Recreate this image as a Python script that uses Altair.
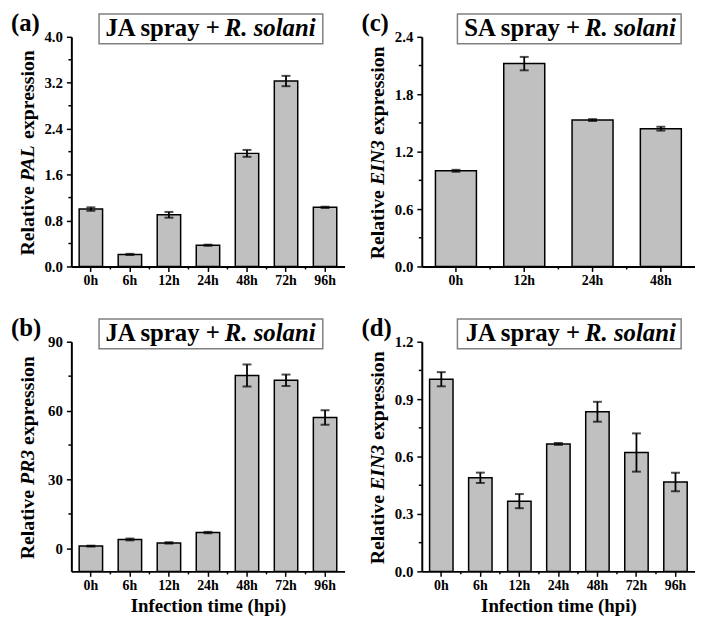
import altair as alt
import pandas as pd

# ---------------- data ----------------
cats7 = ["0h", "6h", "12h", "24h", "48h", "72h", "96h"]
cats4 = ["0h", "12h", "24h", "48h"]

pal_vals = [1.00, 0.21, 0.90, 0.37, 1.97, 3.23, 1.03]
pal_errs = [0.03, 0.01, 0.05, 0.01, 0.06, 0.09, 0.01]

pr3_vals = [1.0, 3.9, 2.4, 6.9, 75.3, 73.2, 57.0]
pr3_errs = [0.2, 0.4, 0.3, 0.3, 4.8, 2.5, 3.2]

ein3_sa_vals = [1.00, 2.12, 1.53, 1.44]
ein3_sa_errs = [0.01, 0.07, 0.01, 0.02]

ein3_ja_vals = [1.004, 0.489, 0.367, 0.666, 0.834, 0.621, 0.467]
ein3_ja_errs = [0.037, 0.027, 0.037, 0.005, 0.052, 0.10, 0.048]

pal_ticks = [0.0, 0.8, 1.6, 2.4, 3.2, 4.0]
pal_minor = [0.4, 1.2, 2.0, 2.8, 3.6]
pr3_ticks = [0, 30, 60, 90]
pr3_minor = [15, 45, 75]
sa_ticks = [0.0, 0.6, 1.2, 1.8, 2.4]
sa_minor = [0.3, 0.9, 1.5, 2.1]
ja_ticks = [0.0, 0.3, 0.6, 0.9, 1.2]
ja_minor = [0.15, 0.45, 0.75, 1.05]

# ---------------- layout ----------------
W, H = 276, 232
FONT = "Liberation Serif"
FS_T = 20  # y axis title font size

# approximate em widths of the pieces of the y title
EM = {"Relative": 3.5, "expression": 4.5, "PAL": 1.889, "PR3": 1.778, "EIN3": 2.278}


def txt(s, x, y, size, italic=False, align="center", angle=0, baseline="middle"):
    props = dict(font=FONT, fontSize=size, fontWeight="bold", color="black",
                 align=align, baseline=baseline)
    if italic:
        props["fontStyle"] = "italic"
    if angle:
        props["angle"] = angle
    return alt.Chart(pd.DataFrame({"s": [s]})).mark_text(**props).encode(
        text="s:N", x=alt.value(x), y=alt.value(y))


def panel(cats, vals, errs, dom, ticks, minor, fmt, gene, prefix, box, split,
          label, xtitle):
    base = dom[0]
    df = pd.DataFrame({
        "t": cats, "v": vals,
        "lo": [v - e for v, e in zip(vals, errs)],
        "hi": [v + e for v, e in zip(vals, errs)],
        "b": [base] * len(cats),
    })
    common = dict(labelFont=FONT, labelFontWeight="bold",
                  labelColor="black", domainColor="black", domainWidth=2,
                  tickColor="black", tickWidth=1.5, grid=False)
    if xtitle:
        xaxis = alt.Axis(title=xtitle, labelAngle=0, tickSize=5, labelPadding=2,
                         labelFontSize=14, titlePadding=5, titleFont=FONT,
                         titleFontSize=19, titleFontWeight="bold",
                         titleColor="black", **common)
    else:
        xaxis = alt.Axis(title=None, labelAngle=0, tickSize=5, labelPadding=2,
                         labelFontSize=14, **common)
    xenc = alt.X("t:N", sort=cats,
                 scale=alt.Scale(paddingInner=0.4, paddingOuter=0.2),
                 axis=xaxis)
    yscale = alt.Scale(domain=dom, nice=False, zero=False)
    yaxis = alt.Axis(values=ticks, format=fmt, title=None, tickSize=5,
                     labelPadding=4, labelFontSize=15, **common)

    bars = alt.Chart(df).mark_bar(fill="#c0c0c0", stroke="black",
                                  strokeWidth=1.5).encode(
        x=xenc, y=alt.Y("v:Q", scale=yscale, axis=yaxis), y2="b:Q")
    rule = alt.Chart(df).mark_rule(color="black", strokeWidth=1.8).encode(
        x=xenc, y=alt.Y("lo:Q", scale=yscale, axis=yaxis), y2="hi:Q")
    cap_lo = alt.Chart(df).mark_tick(color="black", thickness=2, size=9).encode(
        x=xenc, y=alt.Y("lo:Q", scale=yscale, axis=yaxis))
    cap_hi = alt.Chart(df).mark_tick(color="black", thickness=2, size=9).encode(
        x=xenc, y=alt.Y("hi:Q", scale=yscale, axis=yaxis))
    mticks = alt.Chart(pd.DataFrame({"m": minor})).mark_rule(
        color="black", strokeWidth=1.5).encode(
        y=alt.Y("m:Q", scale=yscale, axis=yaxis),
        x=alt.value(-3), x2=alt.value(0))
    # minor x ticks between bars (band boundaries)
    step = W / len(cats)
    xminor = alt.Chart(pd.DataFrame({"t": cats[1:]})).mark_rule(
        color="black", strokeWidth=1.5, xOffset=-step / 2).encode(
        x=xenc, y=alt.value(H), y2=alt.value(H + 3))

    # title box
    boxm = alt.Chart(pd.DataFrame({"s": [""]})).mark_rect(
        fill="white", stroke="#808080", strokeWidth=1.5).encode(
        x=alt.value(box[0]), x2=alt.value(box[1]),
        y=alt.value(-23), y2=alt.value(7))
    t1 = txt(prefix, split, -1, 25, align="right", baseline="alphabetic")
    t2 = txt("R. solani", split + 5, -1, 25, italic=True, align="left",
             baseline="alphabetic")

    # y title pieces (rotated)
    g = 0.25 * FS_T
    rel = EM["Relative"] * FS_T
    gw = EM[gene] * FS_T
    ex = EM["expression"] * FS_T
    total = rel + g + gw + g + ex
    yb = H / 2 + 1 + total / 2
    xt = -38
    y1 = txt("Relative", xt, yb, FS_T, align="left", angle=270,
             baseline="alphabetic")
    y2 = txt(gene, xt, yb - rel - g, FS_T, italic=True, align="left",
             angle=270, baseline="alphabetic")
    y3 = txt("expression", xt, yb - rel - g - gw - g, FS_T, align="left",
             angle=270, baseline="alphabetic")

    lab = txt(label, -61, -14, 25, align="left")

    return alt.layer(bars, rule, cap_lo, cap_hi, mticks, xminor, boxm, t1, t2,
                     y1, y2, y3, lab).properties(width=W, height=H)


pa = panel(cats7, pal_vals, pal_errs, [0, 4.0], pal_ticks, pal_minor, ".1f",
           "PAL", "JA spray +", (28, 254), 150, "(a)", None)
pc = panel(cats4, ein3_sa_vals, ein3_sa_errs, [0, 2.4], sa_ticks, sa_minor,
           ".1f", "EIN3", "SA spray +", (36, 262), 160, "(c)", None)
pb = panel(cats7, pr3_vals, pr3_errs, [-10, 90], pr3_ticks, pr3_minor, "d",
           "PR3", "JA spray +", (28, 254), 150, "(b)", "Infection time (hpi)")
pd_ = panel(cats7, ein3_ja_vals, ein3_ja_errs, [0, 1.2], ja_ticks, ja_minor,
            ".1f", "EIN3", "JA spray +", (36, 262), 160, "(d)",
            "Infection time (hpi)")

chart = alt.concat(pa, pc, pb, pd_, columns=2,
                   spacing={"row": 76, "column": 78}, bounds="flush").properties(
    padding={"left": 3, "top": 0, "right": 0, "bottom": 0},
    background="white"
).configure_view(strokeOpacity=0)

chart.save("out.html", embed_options={"renderer": "svg", "actions": False})
